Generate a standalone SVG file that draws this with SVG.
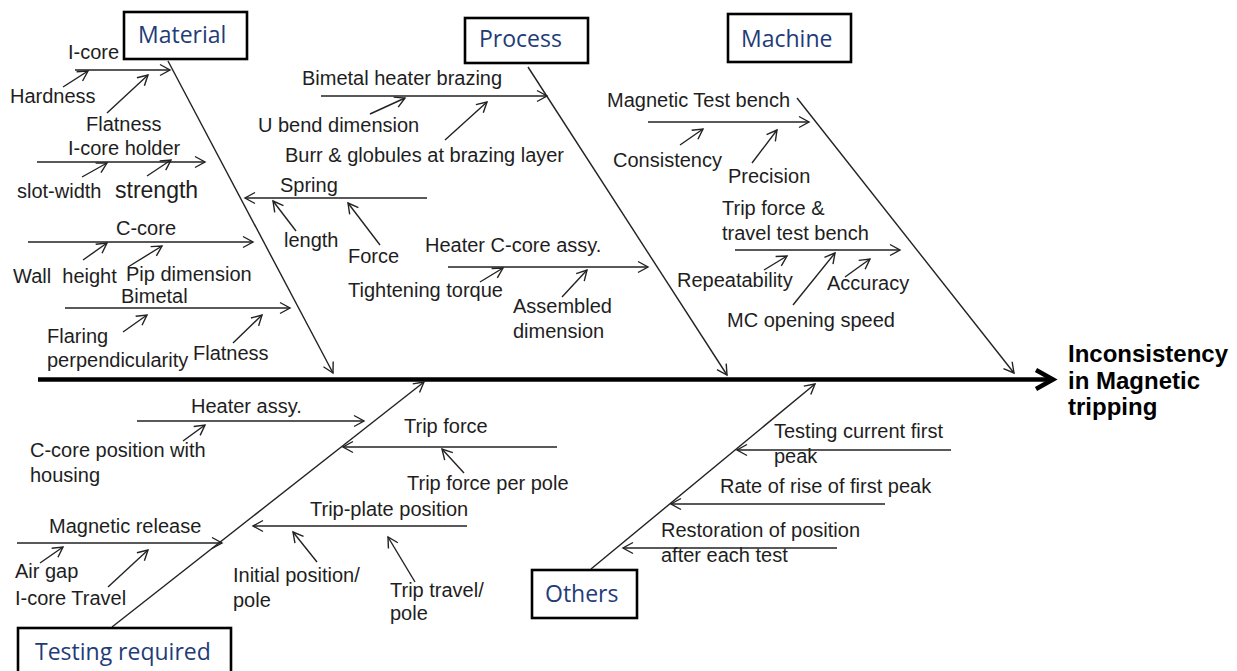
<svg xmlns="http://www.w3.org/2000/svg" width="1237" height="671" viewBox="0 0 1237 671">
  <defs>
    <marker id="arr" viewBox="-11 -7 13 14" refX="0" refY="0" markerWidth="13" markerHeight="14" markerUnits="userSpaceOnUse" orient="auto">
      <path d="M-10,-5.5 L0,0 L-10,5.5" fill="none" stroke="#222" stroke-width="1.4"/>
    </marker>
  </defs>
  <style>
    .t { font-family: "Liberation Sans", Arial, sans-serif; font-size: 20px; fill: #1e1e1e; }
    .cat { font-family: "Open Sans", "Noto Sans", sans-serif; font-size: 23px; fill: #1f3c78; }
    .box { fill: #fff; stroke: #000; stroke-width: 2.6; }
    .ln { stroke: #222; stroke-width: 1.4; fill: none; marker-end: url(#arr); }
    .eff { font-family: "Liberation Sans", Arial, sans-serif; font-size: 24px; font-weight: bold; fill: #000; }
  </style>
  <rect width="1237" height="671" fill="#fff"/>

  <!-- connectors: spine, bones, branches and sub-cause arrows -->
  <g id="connectors">
    <line x1="38" y1="379.5" x2="1051" y2="379.5" stroke="#000" stroke-width="4.5"/>
    <polyline points="1036,370 1053,379.5 1036,389" fill="none" stroke="#000" stroke-width="4.5" stroke-linejoin="miter"/>

    <!-- main bones -->
    <line class="ln" x1="168" y1="61" x2="333" y2="373"/>
    <line class="ln" x1="528" y1="67" x2="727" y2="375"/>
    <line class="ln" x1="797" y1="98" x2="1014" y2="373"/>
    <line class="ln" x1="112" y1="627" x2="424" y2="382"/>
    <line class="ln" x1="591" y1="569" x2="815" y2="384"/>

    <!-- Material branches -->
    <line class="ln" x1="75" y1="70" x2="170" y2="70"/>
    <line class="ln" x1="37" y1="162" x2="205" y2="162"/>
    <line class="ln" x1="28" y1="242" x2="253" y2="242"/>
    <line class="ln" x1="65" y1="308" x2="290" y2="308"/>
    <line class="ln" x1="63" y1="87" x2="88" y2="71"/>
    <line class="ln" x1="107" y1="113" x2="148" y2="75"/>
    <line class="ln" x1="82" y1="177" x2="107" y2="163"/>
    <line class="ln" x1="147" y1="176" x2="171" y2="160"/>
    <line class="ln" x1="83" y1="260" x2="107" y2="243"/>
    <line class="ln" x1="128" y1="267" x2="162" y2="246"/>
    <line class="ln" x1="123" y1="332" x2="147" y2="315"/>
    <line class="ln" x1="233" y1="343" x2="262" y2="315"/>

    <!-- Process branches -->
    <line class="ln" x1="321" y1="96" x2="547" y2="96"/>
    <line class="ln" x1="427" y1="198" x2="245" y2="198"/>
    <line class="ln" x1="448" y1="267" x2="648" y2="267"/>
    <line class="ln" x1="370" y1="114" x2="405" y2="98"/>
    <line class="ln" x1="445" y1="140" x2="487" y2="102"/>
    <line class="ln" x1="296" y1="231" x2="273" y2="201"/>
    <line class="ln" x1="380" y1="245" x2="348" y2="203"/>
    <line class="ln" x1="480" y1="282" x2="503" y2="268"/>
    <line class="ln" x1="562" y1="297" x2="587" y2="270"/>

    <!-- Machine branches -->
    <line class="ln" x1="648" y1="122" x2="809" y2="122"/>
    <line class="ln" x1="735" y1="250" x2="900" y2="250"/>
    <line class="ln" x1="680" y1="145" x2="703" y2="129"/>
    <line class="ln" x1="752" y1="163" x2="777" y2="130"/>
    <line class="ln" x1="764" y1="270" x2="787" y2="256"/>
    <line class="ln" x1="793" y1="305" x2="835" y2="253"/>
    <line class="ln" x1="845" y1="277" x2="870" y2="259"/>

    <!-- Testing required branches -->
    <line class="ln" x1="137" y1="421" x2="364" y2="421"/>
    <line class="ln" x1="557" y1="447" x2="343" y2="447"/>
    <line class="ln" x1="467" y1="526" x2="253" y2="526"/>
    <line class="ln" x1="17" y1="543" x2="222" y2="543"/>
    <line class="ln" x1="183" y1="441" x2="205" y2="425"/>
    <line class="ln" x1="464" y1="473" x2="442" y2="449"/>
    <line class="ln" x1="40" y1="563" x2="63" y2="547"/>
    <line class="ln" x1="108" y1="587" x2="148" y2="550"/>
    <line class="ln" x1="317" y1="562" x2="293" y2="532"/>
    <line class="ln" x1="415" y1="582" x2="388" y2="537"/>

    <!-- Others branches -->
    <line class="ln" x1="951" y1="450" x2="737" y2="450"/>
    <line class="ln" x1="885" y1="504" x2="671" y2="504"/>
    <line class="ln" x1="837" y1="548" x2="623" y2="548"/>
  </g>

  <!-- category nodes -->
  <g id="node-material">
    <rect class="box" x="124" y="12" width="123" height="47"/>
    <text class="cat" x="138" y="43">Material</text>
  </g>
  <g id="node-process">
    <rect class="box" x="465" y="18" width="123" height="45"/>
    <text class="cat" x="479" y="47">Process</text>
  </g>
  <g id="node-machine">
    <rect class="box" x="728" y="14" width="123" height="48"/>
    <text class="cat" x="741" y="47">Machine</text>
  </g>
  <g id="node-testing">
    <rect class="box" x="18" y="628" width="213" height="50"/>
    <text class="cat" x="35" y="660">Testing required</text>
  </g>
  <g id="node-others">
    <rect class="box" x="532" y="570" width="105" height="48"/>
    <text class="cat" x="545" y="602">Others</text>
  </g>

  <!-- effect -->
  <g id="node-effect">
    <text class="eff" x="1068" y="362">Inconsistency</text>
    <text class="eff" x="1068" y="389">in Magnetic</text>
    <text class="eff" x="1068" y="415">tripping</text>
  </g>

  <!-- Material causes -->
  <g id="causes-material">
    <text class="t" x="68" y="59">I-core</text>
    <text class="t" x="10" y="103">Hardness</text>
    <text class="t" x="86" y="131">Flatness</text>
    <text class="t" x="68" y="155">I-core holder</text>
    <text class="t" x="17" y="198">slot-width</text>
    <text class="t" x="115" y="198" style="font-size:23px">strength</text>
    <text class="t" x="116" y="235">C-core</text>
    <text class="t" x="13" y="283" style="white-space:pre">Wall  height</text>
    <text class="t" x="126" y="281">Pip dimension</text>
    <text class="t" x="121" y="303">Bimetal</text>
    <text class="t" x="47" y="343">Flaring</text>
    <text class="t" x="47" y="367">perpendicularity</text>
    <text class="t" x="193" y="360">Flatness</text>
  </g>

  <!-- Process causes -->
  <g id="causes-process">
    <text class="t" x="302" y="85">Bimetal heater brazing</text>
    <text class="t" x="258" y="132">U bend dimension</text>
    <text class="t" x="285" y="162">Burr &amp; globules at brazing layer</text>
    <text class="t" x="280" y="192">Spring</text>
    <text class="t" x="284" y="247">length</text>
    <text class="t" x="348" y="263">Force</text>
    <text class="t" x="348" y="297">Tightening torque</text>
    <text class="t" x="425" y="252">Heater C-core assy.</text>
    <text class="t" x="513" y="313">Assembled</text>
    <text class="t" x="513" y="338">dimension</text>
  </g>

  <!-- Machine causes -->
  <g id="causes-machine">
    <text class="t" x="607" y="107">Magnetic Test bench</text>
    <text class="t" x="613" y="167">Consistency</text>
    <text class="t" x="728" y="183">Precision</text>
    <text class="t" x="722" y="215">Trip force &amp;</text>
    <text class="t" x="722" y="240">travel test bench</text>
    <text class="t" x="677" y="287">Repeatability</text>
    <text class="t" x="827" y="290">Accuracy</text>
    <text class="t" x="727" y="327">MC opening speed</text>
  </g>

  <!-- Testing required causes -->
  <g id="causes-testing">
    <text class="t" x="191" y="413">Heater assy.</text>
    <text class="t" x="30" y="457">C-core position with</text>
    <text class="t" x="30" y="482">housing</text>
    <text class="t" x="404" y="433">Trip force</text>
    <text class="t" x="407" y="490">Trip force per pole</text>
    <text class="t" x="310" y="516">Trip-plate position</text>
    <text class="t" x="49" y="533">Magnetic release</text>
    <text class="t" x="15" y="578">Air gap</text>
    <text class="t" x="15" y="605">I-core Travel</text>
    <text class="t" x="233" y="582">Initial position/</text>
    <text class="t" x="233" y="607">pole</text>
    <text class="t" x="390" y="597">Trip travel/</text>
    <text class="t" x="390" y="620">pole</text>
  </g>

  <!-- Others causes -->
  <g id="causes-others">
    <text class="t" x="774" y="438">Testing current first</text>
    <text class="t" x="774" y="463">peak</text>
    <text class="t" x="720" y="493">Rate of rise of first peak</text>
    <text class="t" x="661" y="537">Restoration of position</text>
    <text class="t" x="661" y="562">after each test</text>
  </g>
</svg>
